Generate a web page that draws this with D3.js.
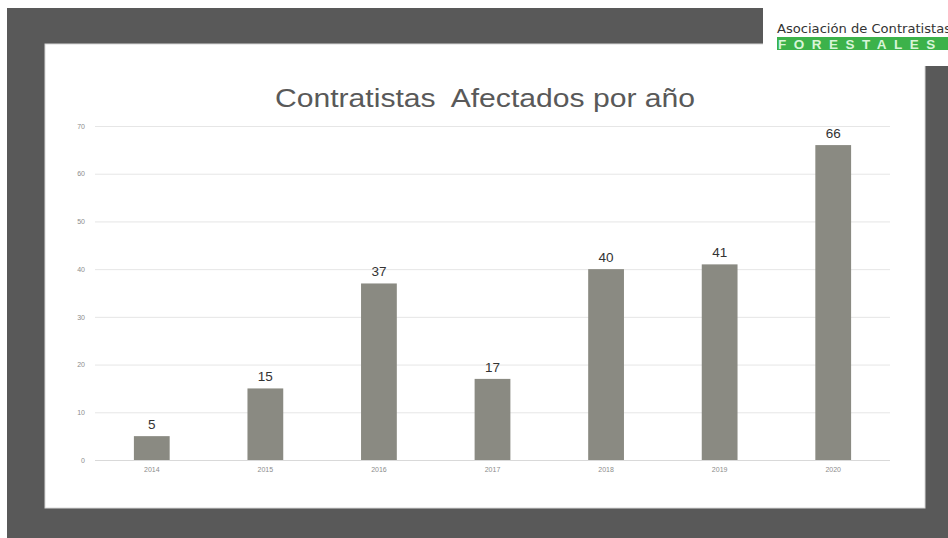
<!DOCTYPE html>
<html><head><meta charset="utf-8">
<script src="https://cdn.jsdelivr.net/npm/d3@7"></script>
<style>body{margin:0;background:#fff;overflow:hidden}svg{display:block}text{white-space:pre}</style>
</head><body>
<script>
const categories = ["2014","2015","2016","2017","2018","2019","2020"];
const values = [5, 15, 37, 17, 40, 41, 66];
const yTicks = [0,10,20,30,40,50,60,70];
const title = "Contratistas  Afectados por año";
const logoTop = "Asociación de Contratistas";
const logoBottom = "FORESTALES";

const W = 948, H = 538;
const svg = d3.select("body").append("svg").attr("width", W).attr("height", H);

// backgrounds
svg.append("rect").attr("x",0).attr("y",0).attr("width",W).attr("height",H).attr("fill","#ffffff");
svg.append("rect").attr("x",7).attr("y",8).attr("width",W-7).attr("height",H-8).attr("fill","#595959");
svg.append("rect").attr("x",45).attr("y",44).attr("width",880).attr("height",464).attr("fill","#ffffff")
  .attr("stroke","#d8d8d8").attr("stroke-width",1);
// logo box
svg.append("rect").attr("x",763).attr("y",8).attr("width",W-763).attr("height",58).attr("fill","#ffffff");
svg.append("text").attr("x",777).attr("y",33).text(logoTop)
  .attr("font-family","'Liberation Sans Narrow','DejaVu Sans Condensed',sans-serif")
  .attr("font-size",13).attr("fill","#333").attr("textLength",174).attr("lengthAdjust","spacingAndGlyphs");
svg.append("rect").attr("x",777).attr("y",37).attr("width",W-777).attr("height",13).attr("fill","#3cb24a");
svg.append("text").attr("x",778).attr("y",48.5).text(logoBottom)
  .attr("font-family","'Liberation Sans',Arial,sans-serif").attr("font-size",13.5).attr("font-weight","bold")
  .attr("fill","#d8f5d8").attr("letter-spacing",7.5);

// chart
const x = d3.scaleBand().domain(categories).range([95, 890]).paddingInner(0.685).paddingOuter(0.3425);
const y = d3.scaleLinear().domain([0,70]).range([460,126]);

svg.append("text").attr("x",275).attr("y",107)
  .attr("font-family","'Liberation Sans',Arial,sans-serif").attr("font-size",26)
  .attr("textLength",420).attr("lengthAdjust","spacingAndGlyphs")
  .attr("fill","#595959").text(title);

const gy = svg.append("g").attr("transform","translate(95,0)").attr("color","#8c8c8c")
  .call(d3.axisLeft(y).tickValues(yTicks).tickSize(-795).tickPadding(10));
gy.select(".domain").remove();
gy.selectAll(".tick line").attr("stroke","#e6e6e6");
gy.selectAll(".tick text").attr("fill","#8c8c8c").attr("font-size",7)
  .attr("font-family","'Liberation Sans',Arial,sans-serif");

const gx = svg.append("g").attr("transform","translate(0,460)").attr("color","#8c8c8c")
  .call(d3.axisBottom(x).tickSize(0).tickPadding(7));
gx.select(".domain").attr("stroke","#d9d9d9").attr("d","M95,0.5H890");
gx.selectAll(".tick text").attr("fill","#8c8c8c").attr("font-size",7)
  .attr("font-family","'Liberation Sans',Arial,sans-serif");

svg.append("g").selectAll("rect").data(values).join("rect")
  .attr("x",(d,i)=>x(categories[i])).attr("width",x.bandwidth())
  .attr("y",d=>y(d)).attr("height",d=>460-y(d)).attr("fill","#8a8a82");

svg.append("g").selectAll("text").data(values).join("text")
  .attr("x",(d,i)=>x(categories[i])+x.bandwidth()/2).attr("y",d=>y(d)-7)
  .attr("text-anchor","middle").attr("font-family","'Liberation Sans',Arial,sans-serif")
  .attr("font-size",13.5).attr("fill","#333333").text(d=>d);
</script>
</body></html>
